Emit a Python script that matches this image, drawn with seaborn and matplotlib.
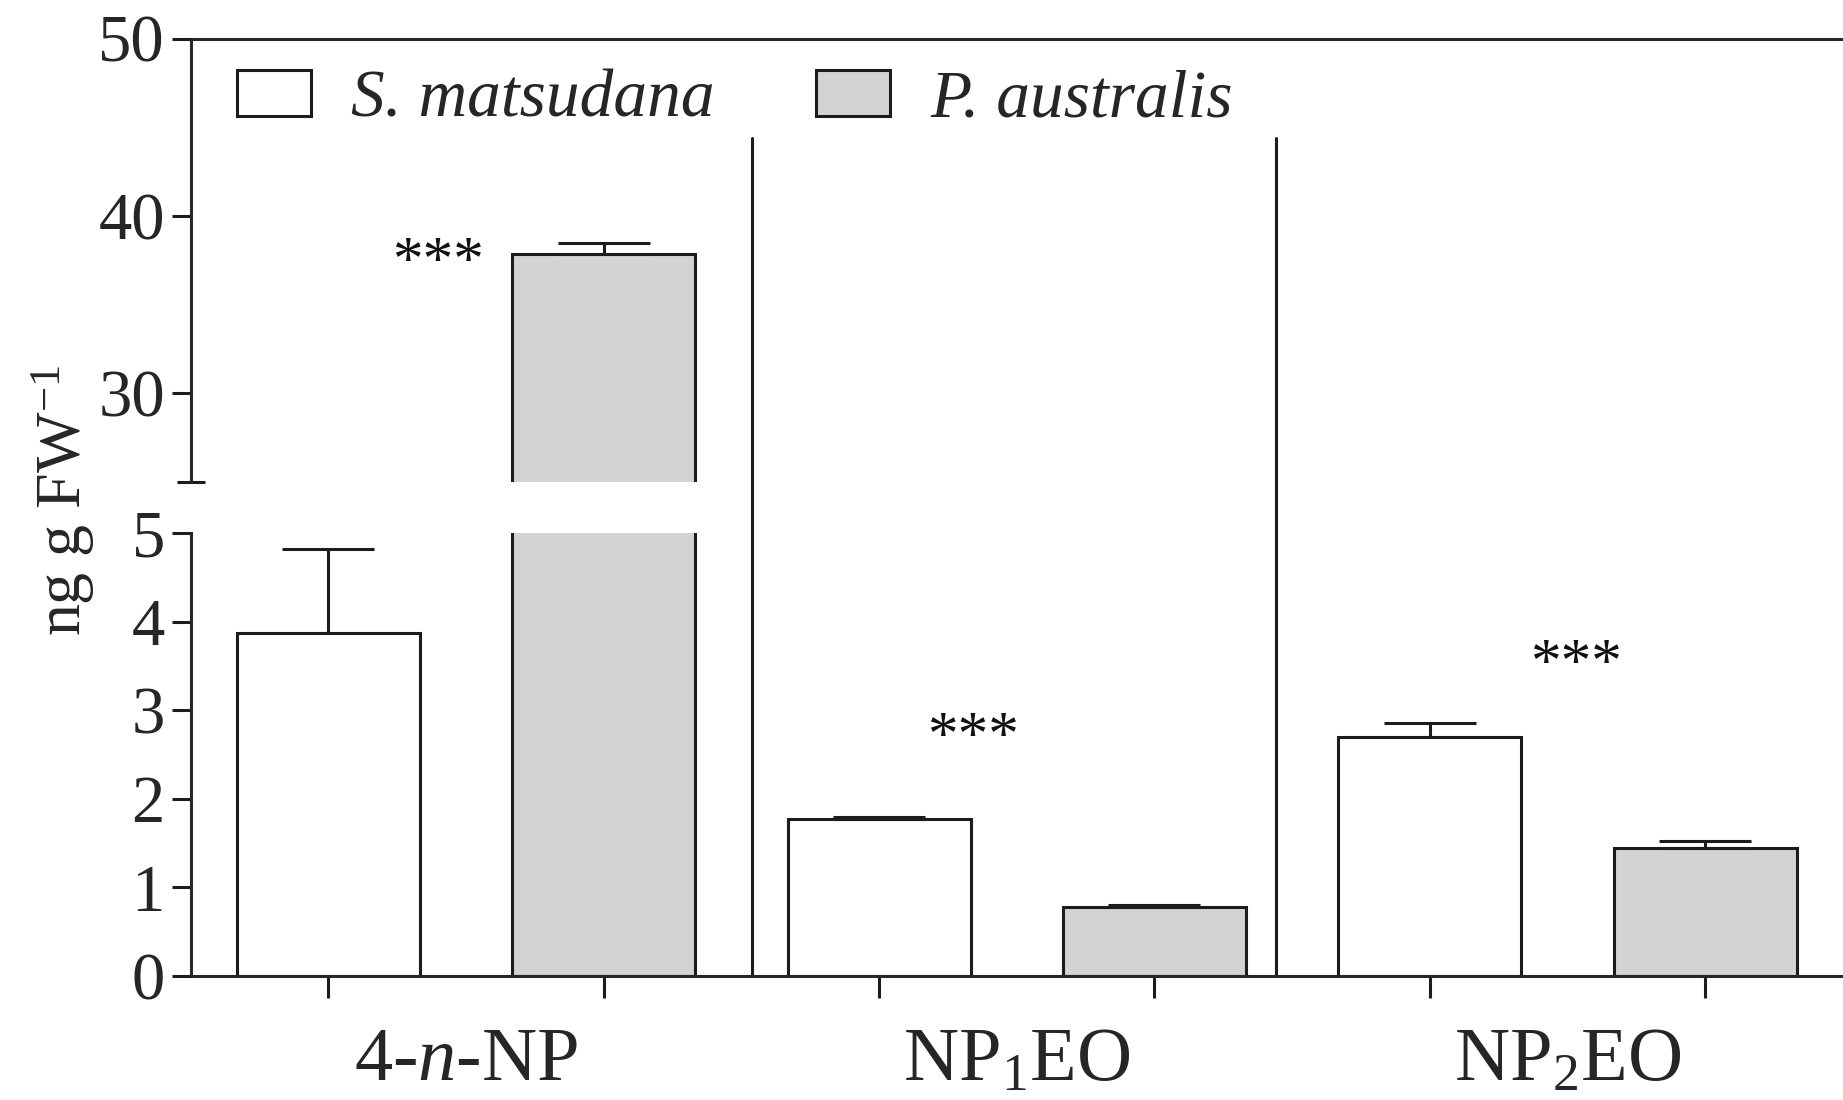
import numpy as np
import pandas as pd
import seaborn as sns
import matplotlib.pyplot as plt
from matplotlib.patches import Patch

# values (ng g FW^-1)
compounds = ["4-$\\mathit{n}$-NP", "NP$_1$EO", "NP$_2$EO"]
species = ["S. matsudana", "P. australis"]
s_mean = [3.87, 1.77, 2.70]
s_err = [0.95, 0.02, 0.16]
p_mean = [37.85, 0.78, 1.44]
p_err = [0.62, 0.02, 0.08]
star_x = [0.40, 2.34, 4.53]
star_y = [38.2, 2.86, 3.69]
divider_x = [1.54, 3.44]
divider_top = 44.4

colors = {"S. matsudana": "white", "P. australis": "#d3d3d3"}
edge = "#1c1c1c"

# one row per bar, bars ordered S, P inside each compound
rows = []
for i, c in enumerate(compounds):
    rows.append({"bar": c + " S", "species": species[0], "value": s_mean[i], "err": s_err[i]})
    rows.append({"bar": c + " P", "species": species[1], "value": p_mean[i], "err": p_err[i]})
df = pd.DataFrame(rows)

sns.set_style("ticks")
plt.rcParams["font.family"] = ["Liberation Serif", "DejaVu Serif"]
plt.rcParams["mathtext.fontset"] = "custom"
plt.rcParams["mathtext.rm"] = "Liberation Serif"
plt.rcParams["mathtext.it"] = "Liberation Serif:italic"
plt.rcParams["axes.linewidth"] = 2.2

fig = plt.figure(figsize=(18.43, 11.0), dpi=100)
ax_top = fig.add_axes([0.1034, 0.5618, 0.8966, 0.4032])
ax_bot = fig.add_axes([0.1034, 0.1127, 0.8966, 0.4027])

pos = np.arange(len(df))
for ax in (ax_top, ax_bot):
    sns.barplot(data=df, x="bar", y="value", hue="species", palette=colors,
                dodge=False, width=0.665, edgecolor=edge, linewidth=2.2,
                errorbar=None, legend=False, ax=ax)
    ax.errorbar(pos, df["value"], yerr=[np.zeros(len(df)), df["err"]],
                fmt="none", ecolor=edge, elinewidth=2.2, capsize=33, capthick=2.2)
    ax.set_xlim(-0.5, 5.5)
    ax.set_xlabel("")
    ax.set_ylabel("")
    ax.spines["right"].set_visible(False)
    ax.tick_params(axis="y", which="major", direction="out", length=13.5, width=2.2,
                   labelsize=48, pad=5, color=edge)

# upper panel 25-50
ax_top.set_ylim(25, 50)
ax_top.set_yticks([30, 40, 50])
ax_top.set_yticks([25], minor=True)
ax_top.tick_params(axis="y", which="minor", direction="inout", length=19.5, width=2.2, color=edge)
ax_top.spines["bottom"].set_visible(False)
ax_top.tick_params(axis="x", which="both", bottom=False, labelbottom=False)

# lower panel 0-5
ax_bot.set_ylim(0, 5)
ax_bot.set_yticks([0, 1, 2, 3, 4, 5])
ax_bot.set_yticks([5], minor=True)
ax_bot.tick_params(axis="y", which="minor", direction="inout", length=22, width=2.2, color=edge)
ax_bot.spines["top"].set_visible(False)
ax_bot.set_xticks(pos)
ax_bot.set_xticklabels([""] * len(pos))
ax_bot.set_xticks([0.5, 2.5, 4.5], minor=True)
ax_bot.set_xticklabels(compounds, minor=True)
ax_bot.tick_params(axis="x", which="major", direction="out", length=16, width=2.2, color=edge)
ax_bot.tick_params(axis="x", which="minor", length=0, labelsize=55, pad=37)

# vertical group dividers running through the break
to_bot = ax_top.transData + ax_bot.transAxes.inverted()
ymax = to_bot.transform((0, divider_top))[1]
for x in divider_x:
    ax_bot.axvline(x, ymin=0, ymax=ymax, color=edge, lw=2.2, clip_on=False)

# significance marks
axes_for_star = [ax_top, ax_bot, ax_bot]
for ax, x, y in zip(axes_for_star, star_x, star_y):
    ax.annotate("***", xy=(x, y), xytext=(0, -22), textcoords="offset points",
                ha="center", va="baseline", fontsize=44, color="#111111")

# legend
handles = [Patch(facecolor=colors[s], edgecolor=edge, linewidth=2.2) for s in species]
ax_top.legend(handles, species, loc="upper left", bbox_to_anchor=(0.028, 0.93),
              ncol=2, frameon=False, borderaxespad=0, borderpad=0,
              handlelength=1.1, handleheight=0.68, handletextpad=0.6,
              columnspacing=1.5, prop={"size": 48.5, "style": "italic"})

fig.text(0.034, 0.545, "ng g FW$^{-1}$", rotation=90, ha="center", va="center", fontsize=46)

fig.savefig("out.png", dpi=100)
